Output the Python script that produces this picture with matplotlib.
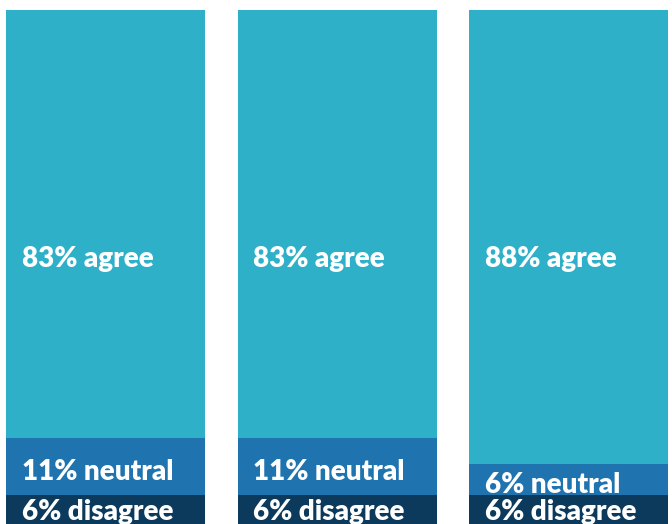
import matplotlib.pyplot as plt

# share of answers per group, bottom to top
disagree = [6, 6, 6]
neutral = [11, 11, 6]
agree = [83, 83, 88]

c_agree = '#2fb0c9'
c_neutral = '#1f74b0'
c_disagree = '#0b3a5c'

plt.rcParams['font.family'] = ['Lato', 'DejaVu Sans']

fig = plt.figure(figsize=(6.72, 5.24), dpi=100)
ax = fig.add_axes([0, 0, 1, 1])

x = range(len(agree))
w = 0.86
bottom2 = [d + n for d, n in zip(disagree, neutral)]
ax.bar(x, disagree, width=w, color=c_disagree)
ax.bar(x, neutral, width=w, bottom=disagree, color=c_neutral)
ax.bar(x, agree, width=w, bottom=bottom2, color=c_agree)

# labels (white, bold) near left edge of each bar
fs = 20
for i in x:
	left = i - w / 2 + 0.068
	ax.text(left, 50.2, f"{agree[i]}% agree", color='white', fontsize=fs,
			fontweight='heavy', va='baseline', ha='left')
	ax.text(left, disagree[i] + neutral[i] / 2 - 2.55, f"{neutral[i]}% neutral",
			color='white', fontsize=fs, fontweight='heavy', va='baseline', ha='left')
	ax.text(left, disagree[i] / 2 - 1.9, f"{disagree[i]}% disagree", color='white',
			fontsize=fs, fontweight='heavy', va='baseline', ha='left')

ax.set_xlim(-0.456, 2.447)
ax.set_ylim(0.39, 101.94)
ax.axis('off')

fig.savefig('out.png', dpi=100)
